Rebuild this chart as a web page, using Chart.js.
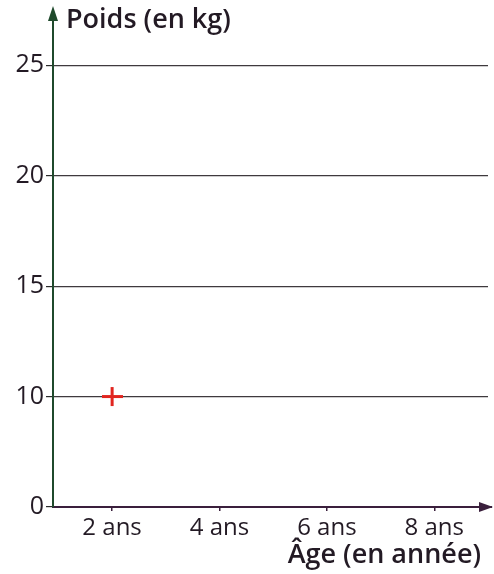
<!DOCTYPE html>
<html>
<head>
<meta charset="utf-8">
<script src="https://cdn.jsdelivr.net/npm/chart.js@4"></script>
<style>
  html, body { margin: 0; padding: 0; background: #fff; }
  #wrap { width: 494px; height: 574px; position: relative; }
</style>
</head>
<body>
<div id="wrap"><canvas id="graphique"></canvas></div>
<script>
// donnees
const ages = [2];
const poids = [10];
const graduationsPoids = [0, 10, 15, 20, 25];
const graduationsAges = [2, 4, 6, 8];

const police = "'Open Sans', 'DejaVu Sans', sans-serif";
const vertAxe = '#1f4a2c';
const violetAxe = '#3a1f3c';
const texte = '#231a24';
const rouge = '#e1251f';

// croix rouge dessinee une fois, utilisee comme pointStyle
// (petit rayon => pas de marge ajoutee autour de la zone du graphique)
const croix = document.createElement('canvas');
croix.width = 21;
croix.height = 21;
(function () {
  const c = croix.getContext('2d');
  c.strokeStyle = rouge;
  c.lineWidth = 3;
  c.beginPath();
  c.moveTo(0, 10.5); c.lineTo(21, 10.5);
  c.moveTo(10.5, 1); c.lineTo(10.5, 20);
  c.stroke();
})();

// fleches + titres des axes
const fleches = {
  id: 'fleches',
  afterDraw(chart) {
    const ctx = chart.ctx;
    const a = chart.chartArea;
    ctx.save();
    // fleche verticale
    ctx.fillStyle = vertAxe;
    ctx.beginPath();
    ctx.moveTo(a.left, a.top - 4);
    ctx.lineTo(a.left - 5, a.top + 11);
    ctx.lineTo(a.left + 5, a.top + 11);
    ctx.closePath();
    ctx.fill();
    // fleche horizontale
    ctx.strokeStyle = violetAxe;
    ctx.lineWidth = 2;
    ctx.beginPath();
    ctx.moveTo(a.right, a.bottom);
    ctx.lineTo(a.right + 4, a.bottom);
    ctx.stroke();
    ctx.fillStyle = violetAxe;
    ctx.beginPath();
    ctx.moveTo(a.right + 5, a.bottom);
    ctx.lineTo(a.right - 9, a.bottom - 5);
    ctx.lineTo(a.right - 9, a.bottom + 5);
    ctx.closePath();
    ctx.fill();
    // titres
    ctx.fillStyle = texte;
    ctx.font = '600 27px ' + police;
    ctx.textBaseline = 'alphabetic';
    ctx.textAlign = 'left';
    ctx.fillText('Poids (en kg)', 66, 28);
    ctx.textAlign = 'right';
    ctx.fillText('Âge (en année)', 481, 563);
    ctx.restore();
  }
};

new Chart(document.getElementById('graphique'), {
  type: 'scatter',
  data: {
    datasets: [{
      data: ages.map((x, i) => ({ x: x, y: graduationsPoids.indexOf(poids[i]) })),
      pointStyle: croix,
      pointRadius: 1,
      pointHoverRadius: 1,
      pointBorderWidth: 0,
      borderColor: rouge,
      backgroundColor: rouge
    }]
  },
  options: {
    responsive: true,
    maintainAspectRatio: false,
    animation: false,
    events: [],
    layout: { padding: { top: 10, right: 6, left: 0, bottom: 0 } },
    plugins: { legend: { display: false }, tooltip: { enabled: false } },
    scales: {
      x: {
        type: 'linear',
        min: 0.9,
        max: 9,
        afterBuildTicks: s => { s.ticks = graduationsAges.map(v => ({ value: v })); },
        afterFit: s => { s.height = 67; s.paddingLeft = 0; s.paddingRight = 0; },
        border: { display: true, color: violetAxe, width: 2 },
        grid: { drawOnChartArea: false, drawTicks: true, tickLength: 4, color: violetAxe, lineWidth: 1.5 },
        ticks: {
          callback: v => v + ' ans',
          color: texte,
          padding: 3,
          maxRotation: 0,
          font: { family: police, size: 24 }
        }
      },
      y: {
        type: 'linear',
        min: 0,
        max: 4.5,
        afterBuildTicks: s => { s.ticks = graduationsPoids.map((v, i) => ({ value: i })); },
        afterFit: s => { s.width = 53; s.paddingTop = 0; s.paddingBottom = 0; },
        border: { display: true, color: vertAxe, width: 2 },
        grid: { color: '#3f3a3e', lineWidth: 1.2, drawTicks: true, tickLength: 7, tickColor: '#2a2a2a' },
        ticks: {
          callback: v => graduationsPoids[v],
          color: texte,
          padding: 2,
          font: { family: police, size: 25 }
        }
      }
    }
  },
  plugins: [fleches]
});
</script>
</body>
</html>
